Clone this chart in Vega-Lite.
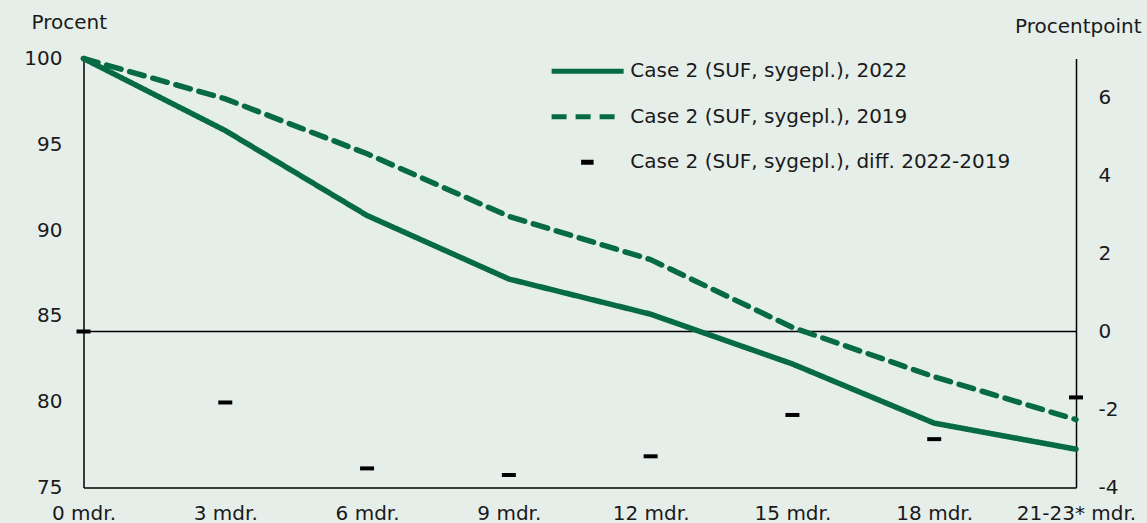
{
  "$schema": "https://vega.github.io/schema/vega-lite/v6.json",
  "width": 992.5,
  "height": 429,
  "autosize": {"type": "none"},
  "padding": {"left": 83.5, "top": 58.5, "right": 71, "bottom": 35.5},
  "background": "#E6EEEA",
  "config": {
    "font": "DejaVu Sans",
    "view": {"stroke": null},
    "axis": {"grid": false, "ticks": false, "domainColor": "#000000", "domainWidth": 1.5, "labelFontSize": 20, "labelColor": "#1a1a1a", "titleFontSize": 20, "titleFontWeight": "normal", "titleColor": "#1a1a1a", "labelFlush": false},
    "legend": {"labelFontSize": 20, "labelColor": "#1a1a1a", "labelLimit": 0}
  },
  "data": {
    "values": [
      {"m": "0 mdr.", "series": "Case 2 (SUF, sygepl.), 2022", "v": 100},
      {"m": "3 mdr.", "series": "Case 2 (SUF, sygepl.), 2022", "v": 95.8},
      {"m": "6 mdr.", "series": "Case 2 (SUF, sygepl.), 2022", "v": 90.85},
      {"m": "9 mdr.", "series": "Case 2 (SUF, sygepl.), 2022", "v": 87.15},
      {"m": "12 mdr.", "series": "Case 2 (SUF, sygepl.), 2022", "v": 85.1},
      {"m": "15 mdr.", "series": "Case 2 (SUF, sygepl.), 2022", "v": 82.2},
      {"m": "18 mdr.", "series": "Case 2 (SUF, sygepl.), 2022", "v": 78.75},
      {"m": "21-23* mdr.", "series": "Case 2 (SUF, sygepl.), 2022", "v": 77.23},
      {"m": "0 mdr.", "series": "Case 2 (SUF, sygepl.), 2019", "v": 100},
      {"m": "3 mdr.", "series": "Case 2 (SUF, sygepl.), 2019", "v": 97.65},
      {"m": "6 mdr.", "series": "Case 2 (SUF, sygepl.), 2019", "v": 94.45},
      {"m": "9 mdr.", "series": "Case 2 (SUF, sygepl.), 2019", "v": 90.8},
      {"m": "12 mdr.", "series": "Case 2 (SUF, sygepl.), 2019", "v": 88.28},
      {"m": "15 mdr.", "series": "Case 2 (SUF, sygepl.), 2019", "v": 84.33},
      {"m": "18 mdr.", "series": "Case 2 (SUF, sygepl.), 2019", "v": 81.45},
      {"m": "21-23* mdr.", "series": "Case 2 (SUF, sygepl.), 2019", "v": 78.96},
      {"m": "0 mdr.", "series": "Case 2 (SUF, sygepl.), diff. 2022-2019", "v": 0},
      {"m": "3 mdr.", "series": "Case 2 (SUF, sygepl.), diff. 2022-2019", "v": -1.82},
      {"m": "6 mdr.", "series": "Case 2 (SUF, sygepl.), diff. 2022-2019", "v": -3.51},
      {"m": "9 mdr.", "series": "Case 2 (SUF, sygepl.), diff. 2022-2019", "v": -3.68},
      {"m": "12 mdr.", "series": "Case 2 (SUF, sygepl.), diff. 2022-2019", "v": -3.2},
      {"m": "15 mdr.", "series": "Case 2 (SUF, sygepl.), diff. 2022-2019", "v": -2.14},
      {"m": "18 mdr.", "series": "Case 2 (SUF, sygepl.), diff. 2022-2019", "v": -2.76},
      {"m": "21-23* mdr.", "series": "Case 2 (SUF, sygepl.), diff. 2022-2019", "v": -1.69}
    ]
  },
  "encoding": {
    "x": {
      "field": "m", "type": "ordinal",
      "scale": {"type": "point", "padding": 0, "domain": ["0 mdr.", "3 mdr.", "6 mdr.", "9 mdr.", "12 mdr.", "15 mdr.", "18 mdr.", "21-23* mdr."]},
      "axis": {"title": null, "labelAngle": 0, "labelBaseline": "middle", "labelPadding": 25.5}
    },
    "color": {
      "field": "series", "type": "nominal",
      "scale": {"domain": ["Case 2 (SUF, sygepl.), 2022", "Case 2 (SUF, sygepl.), 2019", "Case 2 (SUF, sygepl.), diff. 2022-2019"], "range": ["#076A46", "#076A46", "#000000"]},
      "legend": {"title": null, "orient": "none", "legendX": 458.1, "legendY": 2.7, "symbolType": "M0,0H12", "symbolSize": 144, "symbolStrokeWidth": 5, "labelOffset": 68.7, "rowPadding": 25.5}
    },
    "strokeDash": {
      "field": "series", "type": "nominal",
      "scale": {"domain": ["Case 2 (SUF, sygepl.), 2022", "Case 2 (SUF, sygepl.), 2019", "Case 2 (SUF, sygepl.), diff. 2022-2019"], "range": [[1, 0], [15, 9], [0, 29.5, 12.5, 200]]},
      "legend": {"title": null, "orient": "none", "legendX": 458.1, "legendY": 2.7, "symbolType": "M0,0H12", "symbolSize": 144, "symbolStrokeWidth": 5, "labelOffset": 68.7, "rowPadding": 25.5}
    }
  },
  "layer": [
    {
      "data": {"values": [{"z": 0}]},
      "mark": {"type": "rule", "color": "#000000", "strokeWidth": 1.5},
      "encoding": {
        "x": null,
        "color": null,
        "strokeDash": null,
        "y": {"field": "z", "type": "quantitative", "scale": {"domain": [-4, 7], "nice": false, "zero": false}, "axis": null}
      }
    },
    {
      "transform": [{"filter": "datum.series !== 'Case 2 (SUF, sygepl.), diff. 2022-2019'"}],
      "mark": {"type": "line", "strokeWidth": 5.5, "strokeJoin": "round", "strokeCap": "round"},
      "encoding": {
        "y": {"field": "v", "type": "quantitative", "scale": {"domain": [75, 100], "nice": false, "zero": false},
          "axis": {"title": "Procent", "values": [75, 80, 85, 90, 95, 100], "labelPadding": 21.5, "titleAngle": 0, "titleAlign": "left", "titleBaseline": "middle", "titleX": -52.5, "titleY": -35.8}}
      }
    },
    {
      "transform": [{"filter": "datum.series === 'Case 2 (SUF, sygepl.), diff. 2022-2019'"}],
      "mark": {"type": "tick", "size": 14, "thickness": 4, "opacity": 1},
      "encoding": {
        "y": {"field": "v", "type": "quantitative", "scale": {"domain": [-4, 7], "nice": false, "zero": false},
          "axis": {"orient": "right", "title": "Procentpoint", "values": [-4, -2, 0, 2, 4, 6], "labelExpr": "'' + datum.value", "labelPadding": 22, "titleAngle": 0, "titleAlign": "right", "titleBaseline": "middle", "titleX": 65, "titleY": -31.8}}
      }
    }
  ],
  "resolve": {"scale": {"y": "independent"}}
}
